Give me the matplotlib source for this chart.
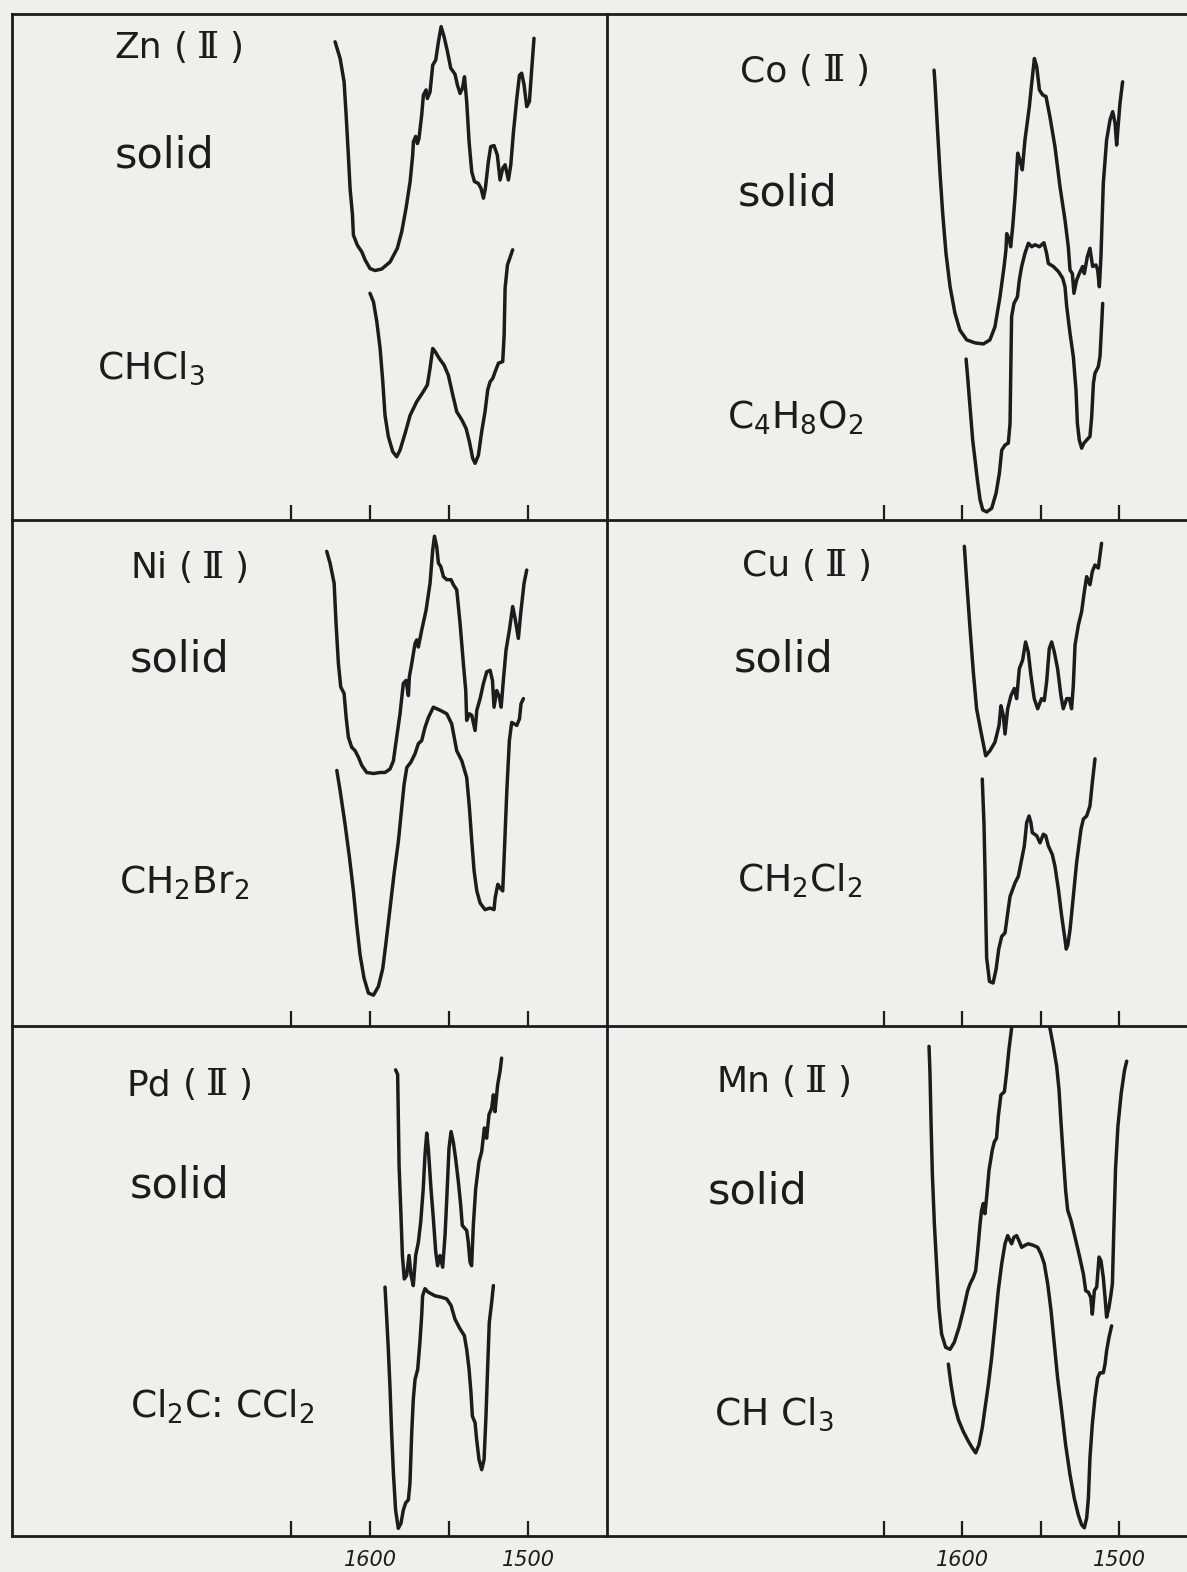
import matplotlib
matplotlib.use('Agg')
import matplotlib.pyplot as plt

plt.rcParams['font.family'] = ['DejaVu Sans', 'Noto Sans']
plt.rcParams['mathtext.fontset'] = 'dejavusans'

# IR traces: (wavenumber cm-1, transmittance in % of panel height)
zn_solid = [(1622.1, 94.5), (1618.9, 91.2), (1616.4, 86.6), (1615.1, 80.0), (1613.7, 72.1), (1612.6, 65.5),
            (1611.1, 60.3), (1610.5, 56.3), (1608.0, 54.3), (1605.2, 53.0), (1603.1, 51.4), (1600.0, 49.7),
            (1596.8, 49.3), (1592.6, 49.6), (1587.3, 51.0), (1582.7, 53.7), (1579.9, 57.0), (1577.2, 61.6),
            (1574.6, 66.9), (1573.0, 72.1), (1572.5, 74.8), (1571.1, 75.8), (1570.0, 74.4), (1569.0, 75.4),
            (1567.3, 80.0), (1566.2, 84.0), (1564.5, 85.0), (1563.7, 83.3), (1562.0, 84.6), (1560.3, 89.9),
            (1558.4, 90.9), (1556.7, 94.5), (1555.0, 97.5), (1553.1, 95.5), (1551.0, 92.6), (1548.9, 89.3),
            (1546.2, 88.1), (1544.7, 86.0), (1543.0, 84.3), (1541.5, 85.3), (1540.2, 87.6), (1538.8, 82.7),
            (1537.3, 74.8), (1535.6, 68.8), (1533.9, 66.9), (1531.4, 66.5), (1529.7, 65.5), (1528.2, 63.6),
            (1527.0, 65.5), (1525.1, 70.8), (1523.6, 73.8), (1521.5, 74.0), (1519.4, 72.1), (1517.7, 67.2),
            (1516.0, 69.5), (1514.5, 70.2), (1512.4, 67.2), (1510.9, 70.2), (1509.2, 76.7), (1507.1, 83.3),
            (1505.4, 87.9), (1504.0, 88.3), (1502.5, 86.0), (1500.8, 81.7), (1499.1, 82.7), (1497.6, 89.3),
            (1496.2, 95.2)]
zn_chcl3 = [(1600.0, 44.8), (1597.8, 43.1), (1595.7, 39.2), (1593.6, 33.9), (1591.9, 27.3), (1590.5, 20.7),
            (1588.4, 16.5), (1585.6, 13.5), (1583.1, 12.5), (1581.0, 13.8), (1577.8, 17.1), (1574.6, 20.7),
            (1570.4, 23.4), (1566.2, 25.4), (1563.7, 26.7), (1562.0, 30.0), (1560.3, 33.9), (1558.8, 33.3),
            (1556.1, 31.9), (1553.1, 30.6), (1550.4, 28.6), (1547.6, 24.7), (1545.1, 21.4), (1541.9, 19.8),
            (1539.2, 18.1), (1537.1, 15.5), (1535.0, 12.2), (1533.5, 11.2), (1531.4, 12.8), (1529.3, 17.5),
            (1527.2, 21.4), (1525.5, 25.7), (1524.0, 27.3), (1522.3, 28.0), (1520.8, 29.3), (1518.7, 31.0),
            (1516.0, 31.3), (1515.1, 36.6), (1514.5, 45.8), (1513.0, 50.4), (1509.7, 53.4)]

co_solid = [(1617.8, 88.9), (1617.2, 86.3), (1615.7, 77.7), (1614.0, 68.5), (1612.3, 60.6), (1610.2, 52.7),
            (1607.6, 46.1), (1604.5, 40.9), (1601.3, 37.5), (1597.0, 35.6), (1591.7, 35.0), (1586.4, 34.8),
            (1582.2, 35.6), (1579.0, 38.2), (1575.8, 44.1), (1573.2, 50.1), (1572.0, 53.4), (1571.5, 56.6),
            (1569.8, 55.3), (1569.0, 54.0), (1567.7, 58.0), (1566.2, 63.9), (1564.5, 72.5), (1563.1, 71.1),
            (1561.6, 69.2), (1559.9, 75.1), (1557.1, 81.7), (1555.6, 86.3), (1553.9, 91.2), (1552.4, 89.6),
            (1550.7, 85.0), (1548.6, 84.0), (1546.5, 83.7), (1544.0, 79.7), (1540.8, 73.8), (1537.6, 65.9),
            (1534.4, 59.3), (1532.3, 54.0), (1531.2, 49.4), (1529.7, 48.7), (1528.7, 44.8), (1527.0, 47.4),
            (1525.3, 48.7), (1523.2, 50.1), (1522.1, 48.7), (1520.2, 52.0), (1518.5, 53.7), (1516.8, 50.1),
            (1514.7, 50.4), (1513.6, 49.4), (1512.5, 46.1), (1511.5, 52.0), (1510.0, 66.5), (1507.9, 75.1),
            (1505.7, 79.1), (1504.0, 80.7), (1502.5, 78.4), (1501.5, 74.1), (1500.4, 78.4), (1499.4, 82.3),
            (1497.7, 86.6)]
co_dioxane = [(1597.4, 31.8), (1596.6, 29.0), (1594.9, 22.4), (1593.2, 15.8), (1591.7, 11.9), (1590.2, 7.9),
              (1588.5, 4.0), (1586.8, 2.0), (1584.3, 1.6), (1581.1, 2.3), (1578.3, 5.3), (1576.2, 9.2),
              (1574.7, 13.8), (1572.6, 14.8), (1570.5, 15.2), (1569.4, 19.1), (1568.8, 32.3), (1568.4, 40.2),
              (1566.9, 42.8), (1564.7, 44.1), (1563.5, 47.4), (1562.0, 50.1), (1559.9, 52.7), (1557.7, 54.7),
              (1555.6, 54.0), (1553.5, 54.4), (1550.7, 54.0), (1547.8, 54.8), (1546.1, 52.7), (1545.0, 50.7),
              (1541.8, 50.1), (1538.6, 49.1), (1535.9, 47.8), (1534.4, 46.1), (1533.3, 42.2), (1531.2, 36.9),
              (1529.1, 32.3), (1527.4, 25.7), (1526.5, 19.1), (1525.3, 15.8), (1523.8, 14.2), (1522.3, 15.2),
              (1520.6, 15.8), (1518.5, 16.5), (1517.4, 20.4), (1516.3, 27.0), (1515.3, 29.0), (1513.2, 30.3),
              (1512.1, 32.3), (1511.0, 38.9), (1510.4, 42.8)]

ni_solid = [(1627.4, 93.8), (1625.3, 91.5), (1622.7, 87.5), (1621.5, 79.6), (1620.0, 71.6), (1618.5, 67.0),
            (1616.4, 65.7), (1615.1, 61.0), (1613.7, 57.1), (1611.6, 55.1), (1609.4, 54.4), (1607.3, 53.1),
            (1605.2, 51.5), (1602.1, 50.1), (1597.8, 49.9), (1593.6, 50.1), (1590.5, 50.1), (1587.3, 50.8),
            (1585.2, 52.4), (1583.1, 57.1), (1581.0, 61.7), (1578.9, 67.7), (1577.2, 68.3), (1575.7, 65.3),
            (1575.1, 69.0), (1573.6, 71.6), (1571.5, 75.6), (1570.4, 76.3), (1569.4, 74.9), (1567.3, 78.2),
            (1564.5, 82.2), (1562.0, 87.5), (1560.3, 94.1), (1559.2, 96.8), (1557.8, 94.8), (1556.7, 91.5),
            (1555.2, 90.8), (1553.5, 88.8), (1551.4, 88.2), (1548.7, 88.2), (1547.2, 87.2), (1545.1, 86.2),
            (1543.0, 79.6), (1540.9, 71.6), (1539.4, 66.3), (1538.8, 60.4), (1537.1, 61.7), (1535.6, 61.4),
            (1533.5, 58.4), (1532.4, 62.4), (1530.3, 64.7), (1528.2, 67.7), (1526.1, 70.0), (1524.0, 70.3),
            (1522.5, 68.3), (1521.5, 63.0), (1519.8, 66.3), (1518.1, 65.0), (1517.0, 63.0), (1515.6, 68.3),
            (1513.9, 74.3), (1511.8, 78.2), (1509.7, 82.9), (1508.2, 80.6), (1506.1, 76.6), (1504.6, 81.6),
            (1502.5, 87.5), (1500.8, 90.1)]
ni_ch2br2 = [(1621.0, 50.5), (1618.9, 46.5), (1615.8, 39.9), (1613.0, 33.3), (1610.5, 26.7), (1608.4, 20.0),
             (1606.3, 14.1), (1603.8, 9.5), (1601.0, 6.5), (1597.8, 6.1), (1594.7, 7.8), (1591.9, 11.4),
             (1589.8, 16.7), (1587.3, 23.3), (1584.8, 30.0), (1582.0, 36.6), (1579.9, 43.2), (1578.4, 47.8),
             (1576.7, 51.1), (1574.2, 52.1), (1571.5, 53.8), (1569.4, 55.8), (1567.3, 56.4), (1565.1, 59.1),
             (1563.0, 61.0), (1559.9, 63.0), (1555.6, 62.4), (1551.4, 61.7), (1548.3, 59.7), (1545.1, 54.4),
             (1541.9, 52.4), (1538.8, 49.1), (1537.1, 43.2), (1535.6, 36.6), (1534.1, 30.6), (1532.4, 26.7),
             (1530.3, 24.3), (1527.2, 23.0), (1524.0, 23.3), (1521.5, 23.0), (1520.8, 25.3), (1519.1, 28.0),
             (1517.7, 27.3), (1516.0, 26.7), (1515.1, 33.3), (1513.4, 46.5), (1511.8, 56.4), (1510.3, 60.0),
             (1507.1, 59.4), (1505.4, 60.7), (1504.4, 63.7), (1502.9, 64.7)]

cu_solid = [(1598.5, 94.8), (1597.0, 87.8), (1594.9, 78.6), (1592.8, 70.0), (1590.7, 62.7), (1587.9, 58.1),
            (1584.9, 53.4), (1582.2, 54.4), (1579.0, 56.1), (1576.4, 59.4), (1575.2, 63.3), (1573.7, 61.4),
            (1572.6, 57.7), (1570.9, 62.7), (1568.8, 65.3), (1566.7, 66.7), (1565.2, 64.7), (1563.5, 70.6),
            (1561.4, 72.3), (1559.5, 75.9), (1557.8, 73.9), (1556.1, 69.3), (1554.0, 64.7), (1551.8, 62.7),
            (1549.3, 64.7), (1547.6, 64.3), (1546.1, 68.0), (1544.4, 74.6), (1542.9, 75.9), (1541.2, 73.9),
            (1539.1, 70.6), (1537.0, 65.3), (1535.5, 62.7), (1533.3, 64.7), (1531.6, 64.7), (1530.2, 62.7),
            (1529.1, 67.3), (1528.0, 75.3), (1525.9, 79.2), (1523.8, 81.9), (1522.1, 85.8), (1520.6, 88.8),
            (1518.5, 87.2), (1517.0, 89.8), (1515.3, 91.1), (1513.2, 90.5), (1511.1, 95.4)]
cu_ch2cl2 = [(1587.1, 48.8), (1586.0, 40.0), (1585.3, 30.0), (1584.8, 21.0), (1584.3, 13.5), (1582.5, 8.8),
             (1580.2, 8.5), (1578.3, 11.2), (1576.6, 15.2), (1574.7, 17.7), (1572.6, 18.4), (1570.9, 22.3),
             (1569.4, 25.6), (1566.2, 28.3), (1564.1, 29.6), (1562.4, 32.3), (1560.3, 35.6), (1558.8, 40.2),
             (1557.3, 41.5), (1556.1, 40.2), (1555.2, 38.2), (1552.4, 37.6), (1550.3, 36.2), (1548.2, 37.9),
             (1546.7, 37.6), (1545.0, 35.6), (1542.5, 33.9), (1540.8, 31.6), (1538.6, 27.0), (1536.5, 21.7),
             (1534.4, 17.1), (1533.6, 15.2), (1532.6, 16.0), (1531.2, 19.0), (1529.1, 25.6), (1527.0, 32.3),
             (1524.2, 38.9), (1522.7, 40.9), (1520.6, 41.5), (1518.5, 43.5), (1517.0, 48.1), (1515.3, 52.8)]

pd_solid = [(1583.8, 91.4), (1582.5, 90.5), (1582.1, 82.6), (1581.6, 72.7), (1580.4, 62.9), (1579.5, 55.0),
            (1578.3, 50.4), (1576.8, 51.1), (1575.3, 55.0), (1574.0, 51.1), (1572.6, 49.1), (1571.1, 55.0),
            (1569.4, 57.6), (1567.9, 61.6), (1566.3, 68.1), (1565.2, 74.7), (1564.1, 79.0), (1563.1, 76.0),
            (1561.4, 68.1), (1559.9, 62.2), (1558.4, 55.7), (1557.2, 53.0), (1555.7, 55.0), (1554.0, 52.7),
            (1552.5, 59.0), (1551.5, 65.5), (1550.0, 76.0), (1548.7, 79.3), (1547.3, 77.3), (1545.8, 74.0),
            (1544.1, 69.5), (1542.6, 64.9), (1541.6, 60.9), (1538.8, 59.9), (1537.8, 57.6), (1536.7, 53.7),
            (1535.7, 53.0), (1534.6, 60.9), (1533.1, 68.1), (1531.0, 73.4), (1529.3, 75.4), (1527.6, 80.0),
            (1526.2, 78.0), (1524.7, 82.6), (1523.0, 83.9), (1521.9, 86.5), (1520.9, 83.2), (1519.2, 88.5),
            (1517.7, 91.1), (1516.7, 93.7)]
pd_c2cl4 = [(1590.5, 48.8), (1589.5, 43.2), (1588.4, 36.6), (1587.3, 28.8), (1586.3, 20.2), (1585.2, 12.4),
            (1583.8, 5.1), (1582.1, 1.5), (1580.4, 2.5), (1578.9, 5.1), (1577.4, 6.5), (1575.7, 7.1),
            (1574.7, 10.4), (1573.6, 20.2), (1572.6, 26.8), (1571.5, 30.7), (1569.8, 32.7), (1568.4, 38.0),
            (1567.3, 43.2), (1566.7, 47.1), (1565.2, 48.5), (1563.1, 47.8), (1558.9, 47.1), (1554.6, 46.8),
            (1551.5, 46.5), (1548.7, 45.2), (1546.2, 42.5), (1543.0, 40.6), (1540.3, 39.3), (1538.8, 36.6),
            (1537.3, 32.7), (1536.1, 28.1), (1535.2, 23.5), (1533.5, 22.2), (1532.5, 18.9), (1531.0, 15.0),
            (1529.3, 13.0), (1527.8, 15.0), (1526.6, 23.5), (1525.5, 33.4), (1524.5, 41.9), (1523.0, 45.8),
            (1521.9, 49.1)]

mn_solid = [(1621.0, 96.0), (1620.4, 90.8), (1619.7, 80.9), (1618.9, 71.1), (1617.6, 61.2), (1616.1, 52.7),
            (1614.7, 44.8), (1613.0, 39.6), (1610.4, 37.0), (1607.6, 36.6), (1604.9, 38.0), (1601.9, 40.9),
            (1599.2, 44.2), (1596.4, 48.1), (1594.9, 49.4), (1592.8, 50.7), (1591.3, 52.0), (1590.0, 56.0),
            (1588.5, 61.2), (1587.5, 63.9), (1586.4, 65.2), (1585.4, 63.2), (1584.3, 66.5), (1582.8, 71.7),
            (1580.7, 75.7), (1579.4, 77.3), (1578.0, 78.0), (1576.9, 82.2), (1575.2, 86.5), (1573.0, 87.1),
            (1571.6, 90.8), (1570.1, 95.4), (1568.4, 99.6), (1566.5, 108.0), (1546.0, 108.0), (1544.0, 99.6),
            (1541.8, 96.0), (1539.7, 92.1), (1538.2, 87.5), (1536.9, 80.9), (1535.5, 74.4), (1534.0, 67.8),
            (1532.7, 63.9), (1530.6, 61.9), (1528.0, 58.6), (1525.5, 55.3), (1522.7, 51.4), (1521.2, 48.1),
            (1519.5, 47.8), (1518.0, 46.8), (1517.0, 43.5), (1515.7, 48.1), (1514.2, 48.8), (1512.7, 54.7),
            (1511.5, 54.0), (1510.0, 50.7), (1508.9, 46.8), (1507.9, 42.9), (1506.4, 44.8), (1505.1, 47.4),
            (1504.2, 49.5), (1503.2, 61.2), (1502.2, 72.0), (1500.7, 80.3), (1498.6, 86.8), (1496.5, 91.3),
            (1495.1, 93.1)]
mn_chcl3 = [(1608.7, 33.7), (1607.0, 29.7), (1604.9, 25.8), (1602.3, 22.8), (1599.2, 20.5), (1596.0, 18.6),
            (1593.5, 17.3), (1591.3, 16.3), (1589.2, 17.9), (1587.1, 21.2), (1585.0, 25.8), (1583.2, 29.7),
            (1581.1, 35.0), (1579.0, 41.5), (1576.9, 48.1), (1574.7, 53.4), (1572.6, 57.3), (1570.9, 58.9),
            (1569.4, 57.9), (1568.4, 57.3), (1566.9, 58.6), (1565.2, 58.9), (1563.7, 57.9), (1562.0, 56.6),
            (1559.9, 57.0), (1557.8, 57.3), (1554.6, 57.0), (1551.8, 56.6), (1549.7, 55.3), (1547.6, 53.4),
            (1545.4, 49.4), (1543.3, 44.2), (1541.2, 37.6), (1539.1, 31.0), (1536.5, 24.5), (1534.0, 17.9),
            (1531.2, 12.0), (1528.5, 7.4), (1525.9, 4.1), (1523.8, 2.2), (1522.1, 1.6), (1520.6, 3.5),
            (1519.5, 7.4), (1518.5, 15.3), (1517.0, 21.9), (1515.3, 27.1), (1513.6, 31.0), (1512.1, 32.0),
            (1510.0, 32.0), (1508.9, 33.7), (1507.9, 36.3), (1506.4, 38.9), (1504.7, 41.2)]

metals = ['Zn', 'Co', 'Ni', 'Cu', 'Pd', 'Mn']
solvents = ['CHCl$_3$', 'C$_4$H$_8$O$_2$', 'CH$_2$Br$_2$', 'CH$_2$Cl$_2$', 'Cl$_2$C: CCl$_2$', 'CH Cl$_3$']
traces = [(zn_solid, zn_chcl3), (co_solid, co_dioxane), (ni_solid, ni_ch2br2),
          (cu_solid, cu_ch2cl2), (pd_solid, pd_c2cl4), (mn_solid, mn_chcl3)]
tick_wn = [1650, 1600, 1550, 1500]
tick_lbl = ['', '1600', '', '1500']

W, H = 1187, 1572
ink = '#1c1c1c'
paper = '#efefec'

# panel frames in pixels
cols = [(12, 607), (607, 1190)]
rows = [(14, 520), (520, 1026), (1026, 1536)]
# pixel position of the 1600 and 1500 cm-1 ticks in each column
col_ticks = [(370, 528), (962, 1119)]

# label placement (x left, y) in pixels
metal_pos = [(114, 48), (740, 71), (130, 568), (742, 566), (126, 1085), (716, 1082)]
solid_pos = [(115, 155), (738, 193), (130, 660), (734, 660), (130, 1186), (708, 1192)]
solv_pos = [(97, 379), (727, 428), (119, 894), (737, 892), (130, 1418), (714, 1425)]

fig = plt.figure(figsize=(W / 100, H / 100), dpi=100, facecolor=paper)
renderer = fig.canvas.get_renderer()


def metal_label(x, y, name):
    # "Zn ( II )" with a serifed roman two, pieced together left to right
    parts = [(name, 'DejaVu Sans', 0, 26), ('(', 'DejaVu Sans', 12, 26),
             ('Ⅱ', 'DejaVu Serif', 9, 27), (')', 'DejaVu Sans', 10, 26)]
    cur = x
    for txt, fam, gap, size in parts:
        cur += gap
        t = fig.text(cur / W, 1 - y / H, txt, fontsize=size, color=ink, family=fam,
                     ha='left', va='center')
        cur = t.get_window_extent(renderer).x1


for i, (solid, solution) in enumerate(traces):
    r, c = divmod(i, 2)
    x0, x1 = cols[c]
    y0, y1 = rows[r]
    ax = fig.add_axes([x0 / W, 1 - y1 / H, (x1 - x0) / W, (y1 - y0) / H])
    ax.set_facecolor('none')

    p16, p15 = col_ticks[c]
    per_cm = (p15 - p16) / 100.0
    ax.set_xlim(1600 + (p16 - x0) / per_cm, 1600 - (x1 - p16) / per_cm)
    ax.set_ylim(0, 100)

    for trace in (solid, solution):
        wn = [p[0] for p in trace]
        tr = [p[1] for p in trace]
        ax.plot(wn, tr, color=ink, lw=2.5, solid_joinstyle='round', solid_capstyle='round')

    for side in ax.spines.values():
        side.set_color(ink)
        side.set_linewidth(2.0)
    if r > 0:
        ax.spines['top'].set_visible(False)
    if c == 1:
        ax.spines['left'].set_visible(False)
        ax.spines['right'].set_visible(False)

    ax.set_yticks([])
    ax.set_xticks(tick_wn)
    ax.tick_params(axis='x', direction='in', length=11, width=1.6, color=ink,
                   pad=10, labelsize=15, labelcolor=ink)
    if r == 2:
        ax.set_xticklabels(tick_lbl)
        for lbl in ax.get_xticklabels():
            lbl.set_fontstyle('italic')
    else:
        ax.set_xticklabels([])

    mx, my = metal_pos[i]
    metal_label(mx, my, metals[i])
    sx, sy = solid_pos[i]
    fig.text(sx / W, 1 - sy / H, 'solid', fontsize=31, color=ink, ha='left', va='center')
    vx, vy = solv_pos[i]
    fig.text(vx / W, 1 - vy / H, solvents[i], fontsize=27, color=ink, ha='left', va='baseline')

fig.savefig('out.png', dpi=100, facecolor=paper)
